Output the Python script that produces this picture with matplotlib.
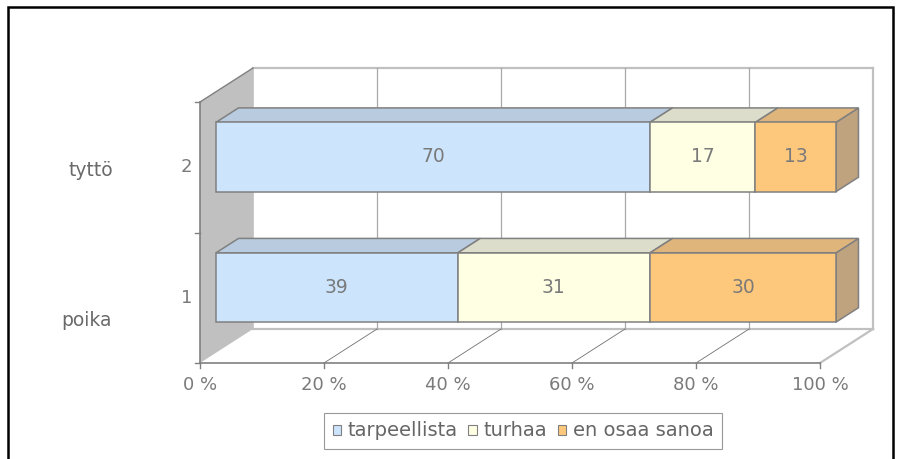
import matplotlib
matplotlib.use("Agg")
import matplotlib.pyplot as plt
import numpy as np
from matplotlib.patches import Polygon, Patch, Rectangle

# ---------------------------------------------------------------------------
# Data
# ---------------------------------------------------------------------------
categories = ["poika", "tyttö"]
cat_ticks = ["1", "2"]
series = ["tarpeellista", "turhaa", "en osaa sanoa"]
tarpeellista = [39, 70]
turhaa = [31, 17]
en_osaa_sanoa = [30, 13]
x_ticks = [0, 20, 40, 60, 80, 100]
x_tick_labels = ["0 %", "20 %", "40 %", "60 %", "80 %", "100 %"]

# ---------------------------------------------------------------------------
# Style
# ---------------------------------------------------------------------------
FRONT = ["#cce4fc", "#ffffe4", "#fec87c"]
TOP = ["#b8cbdf", "#dcddca", "#dfb57c"]
SIDE = ["#a9b9ca", "#c9caba", "#bfa37f"]
EDGE = "#808080"
LIGHT = "#c0c0c0"
TXT = "#7a7a7a"

PX = 6.2      # pixels per percent
PY = 130.5    # pixels per category
DX = 53 / PX  # depth offset in data units
DY = 34 / PY
BAR_H = 0.531
D0, D1 = 0.302, 0.726  # bar depth span (fraction of wall depth)
FS = 13

fig = plt.figure(figsize=(9.1, 4.59), dpi=100)
ax = fig.add_axes([0, 0, 1, 1])
ax.set_xlim(-200 / PX, 710 / PX)
ax.set_ylim(0.5 - 96 / PY, 0.5 + 363 / PY)
ax.axis("off")

y0, y1 = 0.5, 0.5 + len(categories)

# left (gray) wall
ax.add_patch(Polygon([(0, y0), (0, y1), (DX, y1 + DY), (DX, y0 + DY)],
                     closed=True, facecolor=LIGHT, edgecolor="none", zorder=1))
ax.plot([0, DX], [y1, y1 + DY], color=EDGE, lw=1.0, zorder=2)

# back wall frame and grid
ax.plot([DX, 100 + DX], [y1 + DY, y1 + DY], color=LIGHT, lw=1.6, zorder=1)
ax.plot([DX, 100 + DX], [y0 + DY, y0 + DY], color=LIGHT, lw=1.6, zorder=1)
ax.plot([DX, DX], [y0 + DY, y1 + DY], color=LIGHT, lw=1.2, zorder=1)
for t in x_ticks[1:-1]:
    ax.plot([t + DX, t + DX], [y0 + DY, y1 + DY], color="#a8a8a8", lw=0.9, zorder=1)
    ax.plot([t, t + DX], [y0, y0 + DY], color="#707070", lw=0.6, zorder=1)
ax.plot([100 + DX, 100 + DX], [y0 + DY, y1 + DY], color=LIGHT, lw=1.6, zorder=1)
ax.plot([100, 100 + DX], [y0, y0 + DY], color=LIGHT, lw=1.6, zorder=1)

# front axes
ax.plot([0, 0], [y0, y1], color=EDGE, lw=1.2, zorder=2)
ax.plot([0, 100], [y0, y0], color=EDGE, lw=1.2, zorder=2)
for yt in np.arange(y0, y1 + 0.01, 1.0):
    ax.plot([-5 / PX, 0], [yt, yt], color=EDGE, lw=1.0, zorder=2)
for t, lbl in zip(x_ticks, x_tick_labels):
    ax.plot([t, t], [y0, y0 - 5 / PY], color=EDGE, lw=1.0, zorder=2)
    ax.text(t, y0 - 22 / PY, lbl, ha="center", va="center",
            fontsize=FS, color=TXT)
for i, lbl in enumerate(cat_ticks):
    ax.text(-8 / PX, i + 1, lbl, ha="right", va="center",
            fontsize=FS, color=TXT)

# stacked 3D bars
vals = np.array([tarpeellista, turhaa, en_osaa_sanoa])
fx, fy = D0 * DX, D0 * DY
bx, by = (D1 - D0) * DX, (D1 - D0) * DY
for i in range(len(categories)):
    yc = i + 1 + fy
    ybot, ytop = yc - BAR_H / 2, yc + BAR_H / 2
    left = 0
    for j in range(len(series)):
        w = vals[j, i]
        xa, xb = left + fx, left + w + fx
        ax.add_patch(Polygon([(xb, ybot), (xb, ytop), (xb + bx, ytop + by),
                              (xb + bx, ybot + by)], closed=True,
                             facecolor=SIDE[j], edgecolor=EDGE, lw=1.1, zorder=3))
        ax.add_patch(Polygon([(xa, ytop), (xb, ytop), (xb + bx, ytop + by),
                              (xa + bx, ytop + by)], closed=True,
                             facecolor=TOP[j], edgecolor=EDGE, lw=1.1, zorder=3))
        ax.add_patch(Rectangle((xa, ybot), w, BAR_H, facecolor=FRONT[j],
                               edgecolor=EDGE, lw=1.1, zorder=3))
        ax.text((xa + xb) / 2, yc, str(w), ha="center", va="center",
                fontsize=13.5, color=TXT, zorder=4)
        left += w

# category names
ax.text(-87 / PX, 0.5 + (363 - 170) / PY, categories[1], ha="right",
        va="center", fontsize=13.5, color="#6a6a6a")
ax.text(-88 / PX, 0.5 + (363 - 320) / PY, categories[0], ha="right",
        va="center", fontsize=13.5, color="#6a6a6a")

# legend
handles = [Patch(facecolor=FRONT[j], edgecolor=EDGE, lw=0.8) for j in range(3)]
leg = ax.legend(handles, series, loc="center", ncol=3,
                bbox_to_anchor=(523 / 910, 1 - 431 / 459),
                bbox_transform=fig.transFigure, fontsize=14, frameon=True,
                fancybox=False, handlelength=0.42, handleheight=0.42,
                handletextpad=0.35, columnspacing=0.55, borderpad=0.45,
                borderaxespad=0)
leg.get_frame().set_edgecolor(EDGE)
leg.get_frame().set_linewidth(0.8)
for t in leg.get_texts():
    t.set_color("#666666")

# outer frame
fig.patches.append(Rectangle((8 / 910, -0.05), 885 / 910, 1.05 - 7 / 459,
                             transform=fig.transFigure, fill=False,
                             edgecolor="black", lw=1.8))

fig.savefig("out.png", dpi=100)
